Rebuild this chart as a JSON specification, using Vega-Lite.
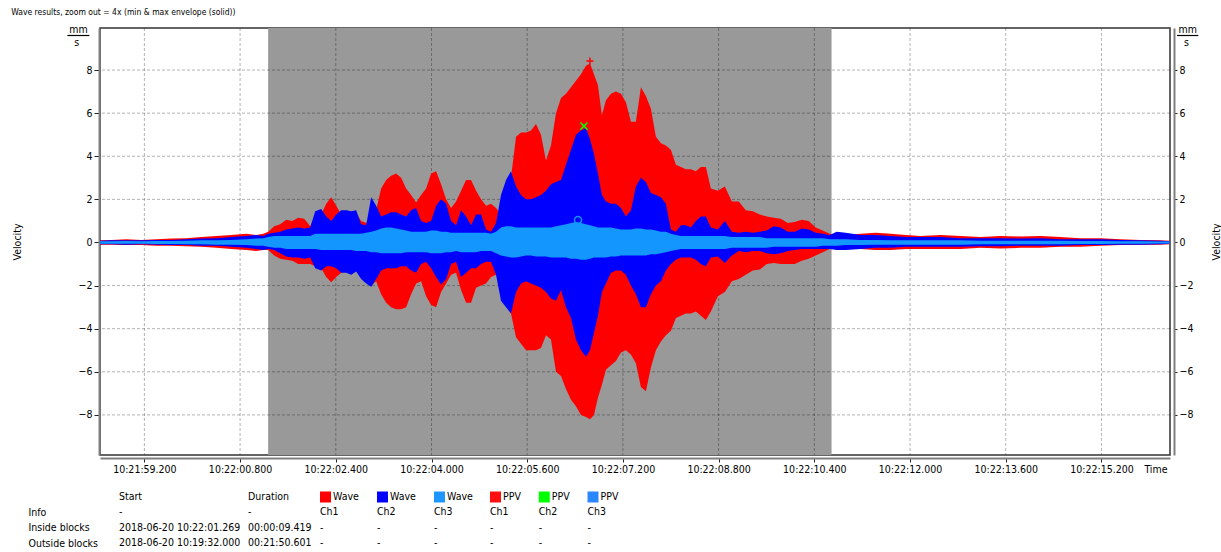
{
  "$schema": "https://vega.github.io/schema/vega-lite/v6.json",
  "background": "white",
  "padding": {"left": 11, "top": 7, "right": 0, "bottom": 0},
  "title": {"text": "Wave results, zoom out = 4x (min & max envelope (solid))", "anchor": "start", "frame": "bounds", "fontSize": 8.5, "font": "DejaVu Sans Condensed", "fontWeight": "normal", "color": "#000", "offset": 8},
  "spacing": 15,
  "config": {
    "font": "DejaVu Sans Condensed",
    "axis": {"labelFont": "DejaVu Sans Condensed", "titleFont": "DejaVu Sans Condensed", "labelFontSize": 10.5, "titleFontSize": 10.5, "titleFontWeight": "normal", "labelColor": "#000", "titleColor": "#000"},
    "text": {"font": "DejaVu Sans Condensed", "fontSize": 10.5, "color": "#000"}
  },
  "resolve": {"scale": {"x": "independent", "y": "independent", "color": "independent", "shape": "independent"}},
  "vconcat": [
    {
      "width": 1070,
      "height": 427,
      "view": {"stroke": "#333", "strokeWidth": 1.5},
      "data": {"values": [
        {"t": 58.46, "ch1max": 0.10, "ch1min": -0.10, "ch2max": 0.08, "ch2min": -0.08, "ch3max": 0.06, "ch3min": -0.06},
        {"t": 58.649, "ch1max": 0.12, "ch1min": -0.10, "ch2max": 0.10, "ch2min": -0.08, "ch3max": 0.06, "ch3min": -0.06},
        {"t": 58.899, "ch1max": 0.15, "ch1min": -0.12, "ch2max": 0.10, "ch2min": -0.10, "ch3max": 0.07, "ch3min": -0.06},
        {"t": 59.150, "ch1max": 0.12, "ch1min": -0.12, "ch2max": 0.10, "ch2min": -0.08, "ch3max": 0.06, "ch3min": -0.06},
        {"t": 59.400, "ch1max": 0.15, "ch1min": -0.15, "ch2max": 0.12, "ch2min": -0.10, "ch3max": 0.07, "ch3min": -0.07},
        {"t": 59.651, "ch1max": 0.18, "ch1min": -0.15, "ch2max": 0.12, "ch2min": -0.12, "ch3max": 0.07, "ch3min": -0.07},
        {"t": 59.901, "ch1max": 0.20, "ch1min": -0.18, "ch2max": 0.15, "ch2min": -0.12, "ch3max": 0.08, "ch3min": -0.08},
        {"t": 60.152, "ch1max": 0.25, "ch1min": -0.20, "ch2max": 0.18, "ch2min": -0.15, "ch3max": 0.10, "ch3min": -0.08},
        {"t": 60.403, "ch1max": 0.30, "ch1min": -0.25, "ch2max": 0.20, "ch2min": -0.15, "ch3max": 0.10, "ch3min": -0.10},
        {"t": 60.653, "ch1max": 0.35, "ch1min": -0.30, "ch2max": 0.25, "ch2min": -0.20, "ch3max": 0.12, "ch3min": -0.10},
        {"t": 60.904, "ch1max": 0.40, "ch1min": -0.35, "ch2max": 0.30, "ch2min": -0.25, "ch3max": 0.15, "ch3min": -0.12},
        {"t": 61.071, "ch1max": 0.35, "ch1min": -0.40, "ch2max": 0.35, "ch2min": -0.30, "ch3max": 0.18, "ch3min": -0.15},
        {"t": 61.187, "ch1max": 0.40, "ch1min": -0.35, "ch2max": 0.30, "ch2min": -0.35, "ch3max": 0.20, "ch3min": -0.15},
        {"t": 61.271, "ch1max": 0.50, "ch1min": -0.35, "ch2max": 0.40, "ch2min": -0.30, "ch3max": 0.25, "ch3min": -0.20},
        {"t": 61.371, "ch1max": 0.75, "ch1min": -0.60, "ch2max": 0.45, "ch2min": -0.35, "ch3max": 0.30, "ch3min": -0.25},
        {"t": 61.471, "ch1max": 0.85, "ch1min": -0.75, "ch2max": 0.50, "ch2min": -0.50, "ch3max": 0.30, "ch3min": -0.25},
        {"t": 61.572, "ch1max": 1.05, "ch1min": -0.80, "ch2max": 0.60, "ch2min": -0.65, "ch3max": 0.30, "ch3min": -0.30},
        {"t": 61.672, "ch1max": 1.00, "ch1min": -0.85, "ch2max": 0.65, "ch2min": -0.70, "ch3max": 0.30, "ch3min": -0.30},
        {"t": 61.772, "ch1max": 1.15, "ch1min": -1.00, "ch2max": 0.70, "ch2min": -0.70, "ch3max": 0.30, "ch3min": -0.30},
        {"t": 61.872, "ch1max": 1.10, "ch1min": -1.00, "ch2max": 0.65, "ch2min": -0.75, "ch3max": 0.30, "ch3min": -0.30},
        {"t": 61.972, "ch1max": 0.75, "ch1min": -1.00, "ch2max": 0.70, "ch2min": -0.70, "ch3max": 0.30, "ch3min": -0.30},
        {"t": 62.056, "ch1max": 1.20, "ch1min": -1.10, "ch2max": 1.45, "ch2min": -1.20, "ch3max": 0.40, "ch3min": -0.30},
        {"t": 62.156, "ch1max": 1.30, "ch1min": -1.20, "ch2max": 1.55, "ch2min": -1.30, "ch3max": 0.40, "ch3min": -0.35},
        {"t": 62.240, "ch1max": 1.80, "ch1min": -1.60, "ch2max": 1.20, "ch2min": -1.10, "ch3max": 0.40, "ch3min": -0.35},
        {"t": 62.323, "ch1max": 2.10, "ch1min": -1.85, "ch2max": 1.00, "ch2min": -1.10, "ch3max": 0.40, "ch3min": -0.35},
        {"t": 62.407, "ch1max": 1.70, "ch1min": -1.60, "ch2max": 1.30, "ch2min": -1.20, "ch3max": 0.40, "ch3min": -0.35},
        {"t": 62.490, "ch1max": 1.30, "ch1min": -1.40, "ch2max": 1.50, "ch2min": -1.40, "ch3max": 0.40, "ch3min": -0.35},
        {"t": 62.574, "ch1max": 1.20, "ch1min": -1.30, "ch2max": 1.50, "ch2min": -1.40, "ch3max": 0.40, "ch3min": -0.35},
        {"t": 62.657, "ch1max": 1.20, "ch1min": -1.30, "ch2max": 1.45, "ch2min": -1.50, "ch3max": 0.40, "ch3min": -0.35},
        {"t": 62.741, "ch1max": 1.35, "ch1min": -1.30, "ch2max": 1.50, "ch2min": -1.35, "ch3max": 0.40, "ch3min": -0.40},
        {"t": 62.824, "ch1max": 1.00, "ch1min": -1.40, "ch2max": 0.85, "ch2min": -1.70, "ch3max": 0.40, "ch3min": -0.40},
        {"t": 62.908, "ch1max": 0.90, "ch1min": -1.80, "ch2max": 0.80, "ch2min": -1.90, "ch3max": 0.45, "ch3min": -0.40},
        {"t": 62.991, "ch1max": 1.20, "ch1min": -2.00, "ch2max": 2.10, "ch2min": -2.05, "ch3max": 0.50, "ch3min": -0.45},
        {"t": 63.075, "ch1max": 1.50, "ch1min": -1.80, "ch2max": 1.70, "ch2min": -1.70, "ch3max": 0.55, "ch3min": -0.45},
        {"t": 63.158, "ch1max": 2.50, "ch1min": -2.40, "ch2max": 1.20, "ch2min": -1.30, "ch3max": 0.65, "ch3min": -0.50},
        {"t": 63.242, "ch1max": 2.90, "ch1min": -2.80, "ch2max": 1.30, "ch2min": -1.20, "ch3max": 0.70, "ch3min": -0.50},
        {"t": 63.325, "ch1max": 3.10, "ch1min": -3.00, "ch2max": 1.40, "ch2min": -1.20, "ch3max": 0.70, "ch3min": -0.50},
        {"t": 63.409, "ch1max": 3.20, "ch1min": -3.10, "ch2max": 1.40, "ch2min": -1.20, "ch3max": 0.65, "ch3min": -0.50},
        {"t": 63.492, "ch1max": 3.00, "ch1min": -3.10, "ch2max": 1.30, "ch2min": -1.10, "ch3max": 0.60, "ch3min": -0.50},
        {"t": 63.576, "ch1max": 2.50, "ch1min": -3.00, "ch2max": 1.20, "ch2min": -1.10, "ch3max": 0.55, "ch3min": -0.45},
        {"t": 63.659, "ch1max": 2.20, "ch1min": -2.40, "ch2max": 1.50, "ch2min": -1.30, "ch3max": 0.50, "ch3min": -0.45},
        {"t": 63.743, "ch1max": 1.85, "ch1min": -1.90, "ch2max": 1.60, "ch2min": -1.40, "ch3max": 0.50, "ch3min": -0.45},
        {"t": 63.826, "ch1max": 2.20, "ch1min": -1.80, "ch2max": 1.00, "ch2min": -1.00, "ch3max": 0.50, "ch3min": -0.45},
        {"t": 63.910, "ch1max": 2.50, "ch1min": -2.50, "ch2max": 0.90, "ch2min": -0.90, "ch3max": 0.50, "ch3min": -0.45},
        {"t": 63.993, "ch1max": 3.20, "ch1min": -2.90, "ch2max": 1.00, "ch2min": -1.20, "ch3max": 0.55, "ch3min": -0.50},
        {"t": 64.077, "ch1max": 3.30, "ch1min": -3.00, "ch2max": 1.70, "ch2min": -1.60, "ch3max": 0.55, "ch3min": -0.50},
        {"t": 64.160, "ch1max": 2.70, "ch1min": -2.30, "ch2max": 2.00, "ch2min": -1.95, "ch3max": 0.50, "ch3min": -0.50},
        {"t": 64.244, "ch1max": 2.00, "ch1min": -1.90, "ch2max": 1.80, "ch2min": -1.70, "ch3max": 0.50, "ch3min": -0.45},
        {"t": 64.327, "ch1max": 1.60, "ch1min": -1.50, "ch2max": 1.00, "ch2min": -1.00, "ch3max": 0.45, "ch3min": -0.45},
        {"t": 64.411, "ch1max": 1.90, "ch1min": -1.40, "ch2max": 0.80, "ch2min": -0.90, "ch3max": 0.45, "ch3min": -0.40},
        {"t": 64.494, "ch1max": 2.40, "ch1min": -2.20, "ch2max": 1.50, "ch2min": -1.60, "ch3max": 0.45, "ch3min": -0.45},
        {"t": 64.578, "ch1max": 2.90, "ch1min": -2.80, "ch2max": 1.20, "ch2min": -1.40, "ch3max": 0.45, "ch3min": -0.45},
        {"t": 64.661, "ch1max": 2.90, "ch1min": -2.80, "ch2max": 0.80, "ch2min": -1.20, "ch3max": 0.45, "ch3min": -0.45},
        {"t": 64.745, "ch1max": 2.40, "ch1min": -2.10, "ch2max": 1.30, "ch2min": -1.20, "ch3max": 0.45, "ch3min": -0.45},
        {"t": 64.828, "ch1max": 2.00, "ch1min": -2.00, "ch2max": 1.30, "ch2min": -1.00, "ch3max": 0.45, "ch3min": -0.40},
        {"t": 64.912, "ch1max": 1.70, "ch1min": -1.90, "ch2max": 0.60, "ch2min": -0.90, "ch3max": 0.45, "ch3min": -0.40},
        {"t": 64.995, "ch1max": 1.80, "ch1min": -1.60, "ch2max": 0.50, "ch2min": -0.90, "ch3max": 0.40, "ch3min": -0.40},
        {"t": 65.079, "ch1max": 1.60, "ch1min": -1.50, "ch2max": 0.90, "ch2min": -1.50, "ch3max": 0.50, "ch3min": -0.50},
        {"t": 65.162, "ch1max": 1.30, "ch1min": -1.60, "ch2max": 2.20, "ch2min": -2.70, "ch3max": 0.70, "ch3min": -0.60},
        {"t": 65.246, "ch1max": 2.00, "ch1min": -2.30, "ch2max": 2.90, "ch2min": -3.00, "ch3max": 0.75, "ch3min": -0.65},
        {"t": 65.329, "ch1max": 3.00, "ch1min": -3.30, "ch2max": 3.30, "ch2min": -3.30, "ch3max": 0.75, "ch3min": -0.70},
        {"t": 65.413, "ch1max": 4.90, "ch1min": -4.40, "ch2max": 2.60, "ch2min": -2.30, "ch3max": 0.70, "ch3min": -0.70},
        {"t": 65.496, "ch1max": 5.10, "ch1min": -4.70, "ch2max": 2.20, "ch2min": -1.90, "ch3max": 0.70, "ch3min": -0.65},
        {"t": 65.580, "ch1max": 5.10, "ch1min": -5.00, "ch2max": 2.00, "ch2min": -1.80, "ch3max": 0.70, "ch3min": -0.60},
        {"t": 65.663, "ch1max": 5.20, "ch1min": -5.00, "ch2max": 2.00, "ch2min": -1.90, "ch3max": 0.70, "ch3min": -0.60},
        {"t": 65.747, "ch1max": 5.50, "ch1min": -5.00, "ch2max": 2.10, "ch2min": -2.00, "ch3max": 0.70, "ch3min": -0.65},
        {"t": 65.830, "ch1max": 5.00, "ch1min": -4.90, "ch2max": 2.20, "ch2min": -2.10, "ch3max": 0.70, "ch3min": -0.65},
        {"t": 65.914, "ch1max": 3.80, "ch1min": -4.30, "ch2max": 2.40, "ch2min": -2.30, "ch3max": 0.70, "ch3min": -0.65},
        {"t": 65.997, "ch1max": 4.50, "ch1min": -4.50, "ch2max": 2.70, "ch2min": -2.60, "ch3max": 0.70, "ch3min": -0.70},
        {"t": 66.081, "ch1max": 6.00, "ch1min": -6.00, "ch2max": 2.80, "ch2min": -2.70, "ch3max": 0.75, "ch3min": -0.70},
        {"t": 66.165, "ch1max": 6.70, "ch1min": -6.20, "ch2max": 2.90, "ch2min": -2.20, "ch3max": 0.80, "ch3min": -0.70},
        {"t": 66.248, "ch1max": 6.90, "ch1min": -6.80, "ch2max": 3.60, "ch2min": -3.00, "ch3max": 0.85, "ch3min": -0.70},
        {"t": 66.332, "ch1max": 7.20, "ch1min": -7.30, "ch2max": 4.30, "ch2min": -3.50, "ch3max": 0.90, "ch3min": -0.75},
        {"t": 66.415, "ch1max": 7.50, "ch1min": -7.60, "ch2max": 5.00, "ch2min": -4.50, "ch3max": 0.95, "ch3min": -0.75},
        {"t": 66.499, "ch1max": 7.80, "ch1min": -8.00, "ch2max": 5.20, "ch2min": -5.00, "ch3max": 0.90, "ch3min": -0.80},
        {"t": 66.582, "ch1max": 8.20, "ch1min": -8.10, "ch2max": 5.30, "ch2min": -5.30, "ch3max": 0.85, "ch3min": -0.80},
        {"t": 66.649, "ch1max": 8.30, "ch1min": -8.20, "ch2max": 4.80, "ch2min": -5.00, "ch3max": 0.80, "ch3min": -0.75},
        {"t": 66.716, "ch1max": 7.80, "ch1min": -8.00, "ch2max": 4.10, "ch2min": -4.20, "ch3max": 0.75, "ch3min": -0.70},
        {"t": 66.782, "ch1max": 7.30, "ch1min": -7.20, "ch2max": 3.20, "ch2min": -3.40, "ch3max": 0.70, "ch3min": -0.70},
        {"t": 66.849, "ch1max": 5.90, "ch1min": -6.60, "ch2max": 2.20, "ch2min": -2.30, "ch3max": 0.70, "ch3min": -0.70},
        {"t": 66.916, "ch1max": 6.60, "ch1min": -5.90, "ch2max": 1.90, "ch2min": -1.90, "ch3max": 0.70, "ch3min": -0.70},
        {"t": 67.000, "ch1max": 6.90, "ch1min": -5.70, "ch2max": 1.80, "ch2min": -1.40, "ch3max": 0.70, "ch3min": -0.65},
        {"t": 67.083, "ch1max": 7.00, "ch1min": -5.50, "ch2max": 1.80, "ch2min": -1.30, "ch3max": 0.65, "ch3min": -0.65},
        {"t": 67.167, "ch1max": 6.90, "ch1min": -5.10, "ch2max": 1.60, "ch2min": -1.30, "ch3max": 0.60, "ch3min": -0.60},
        {"t": 67.250, "ch1max": 6.50, "ch1min": -5.00, "ch2max": 1.20, "ch2min": -1.50, "ch3max": 0.60, "ch3min": -0.60},
        {"t": 67.334, "ch1max": 5.60, "ch1min": -5.20, "ch2max": 1.50, "ch2min": -2.00, "ch3max": 0.60, "ch3min": -0.60},
        {"t": 67.417, "ch1max": 5.60, "ch1min": -5.60, "ch2max": 2.60, "ch2min": -2.40, "ch3max": 0.65, "ch3min": -0.60},
        {"t": 67.501, "ch1max": 7.20, "ch1min": -6.70, "ch2max": 3.00, "ch2min": -3.00, "ch3max": 0.65, "ch3min": -0.60},
        {"t": 67.584, "ch1max": 6.80, "ch1min": -6.90, "ch2max": 2.80, "ch2min": -3.00, "ch3max": 0.60, "ch3min": -0.60},
        {"t": 67.668, "ch1max": 6.20, "ch1min": -5.80, "ch2max": 2.30, "ch2min": -2.40, "ch3max": 0.60, "ch3min": -0.55},
        {"t": 67.751, "ch1max": 4.90, "ch1min": -5.00, "ch2max": 2.20, "ch2min": -2.00, "ch3max": 0.55, "ch3min": -0.55},
        {"t": 67.835, "ch1max": 4.60, "ch1min": -4.60, "ch2max": 2.10, "ch2min": -1.80, "ch3max": 0.50, "ch3min": -0.50},
        {"t": 67.918, "ch1max": 4.50, "ch1min": -4.30, "ch2max": 1.80, "ch2min": -1.30, "ch3max": 0.50, "ch3min": -0.45},
        {"t": 68.002, "ch1max": 4.30, "ch1min": -4.10, "ch2max": 0.60, "ch2min": -1.00, "ch3max": 0.40, "ch3min": -0.40},
        {"t": 68.086, "ch1max": 3.60, "ch1min": -3.50, "ch2max": 0.50, "ch2min": -0.80, "ch3max": 0.35, "ch3min": -0.35},
        {"t": 68.169, "ch1max": 3.50, "ch1min": -3.40, "ch2max": 0.80, "ch2min": -0.70, "ch3max": 0.30, "ch3min": -0.30},
        {"t": 68.253, "ch1max": 3.40, "ch1min": -3.30, "ch2max": 0.80, "ch2min": -0.70, "ch3max": 0.30, "ch3min": -0.30},
        {"t": 68.336, "ch1max": 3.40, "ch1min": -3.30, "ch2max": 0.70, "ch2min": -0.70, "ch3max": 0.30, "ch3min": -0.30},
        {"t": 68.420, "ch1max": 3.30, "ch1min": -3.20, "ch2max": 1.00, "ch2min": -0.80, "ch3max": 0.30, "ch3min": -0.30},
        {"t": 68.503, "ch1max": 3.50, "ch1min": -3.40, "ch2max": 1.20, "ch2min": -1.00, "ch3max": 0.30, "ch3min": -0.30},
        {"t": 68.587, "ch1max": 3.50, "ch1min": -3.60, "ch2max": 1.20, "ch2min": -1.10, "ch3max": 0.30, "ch3min": -0.30},
        {"t": 68.670, "ch1max": 2.50, "ch1min": -3.20, "ch2max": 0.70, "ch2min": -0.70, "ch3max": 0.30, "ch3min": -0.30},
        {"t": 68.787, "ch1max": 2.40, "ch1min": -2.50, "ch2max": 0.60, "ch2min": -0.65, "ch3max": 0.30, "ch3min": -0.30},
        {"t": 68.904, "ch1max": 2.60, "ch1min": -2.30, "ch2max": 1.00, "ch2min": -0.95, "ch3max": 0.30, "ch3min": -0.30},
        {"t": 69.021, "ch1max": 1.90, "ch1min": -1.80, "ch2max": 0.50, "ch2min": -0.60, "ch3max": 0.25, "ch3min": -0.25},
        {"t": 69.137, "ch1max": 1.90, "ch1min": -1.70, "ch2max": 0.45, "ch2min": -0.40, "ch3max": 0.25, "ch3min": -0.25},
        {"t": 69.254, "ch1max": 1.50, "ch1min": -1.50, "ch2max": 0.50, "ch2min": -0.45, "ch3max": 0.25, "ch3min": -0.25},
        {"t": 69.371, "ch1max": 1.45, "ch1min": -1.30, "ch2max": 0.45, "ch2min": -0.40, "ch3max": 0.25, "ch3min": -0.25},
        {"t": 69.488, "ch1max": 1.30, "ch1min": -1.25, "ch2max": 0.50, "ch2min": -0.40, "ch3max": 0.25, "ch3min": -0.25},
        {"t": 69.605, "ch1max": 1.20, "ch1min": -1.00, "ch2max": 0.55, "ch2min": -0.50, "ch3max": 0.20, "ch3min": -0.25},
        {"t": 69.722, "ch1max": 1.15, "ch1min": -0.95, "ch2max": 0.75, "ch2min": -0.55, "ch3max": 0.20, "ch3min": -0.20},
        {"t": 69.839, "ch1max": 1.10, "ch1min": -1.00, "ch2max": 0.70, "ch2min": -0.50, "ch3max": 0.20, "ch3min": -0.20},
        {"t": 69.955, "ch1max": 0.90, "ch1min": -1.00, "ch2max": 0.50, "ch2min": -0.40, "ch3max": 0.20, "ch3min": -0.20},
        {"t": 70.073, "ch1max": 0.95, "ch1min": -1.00, "ch2max": 0.50, "ch2min": -0.35, "ch3max": 0.20, "ch3min": -0.20},
        {"t": 70.190, "ch1max": 1.05, "ch1min": -0.85, "ch2max": 0.65, "ch2min": -0.30, "ch3max": 0.20, "ch3min": -0.20},
        {"t": 70.306, "ch1max": 1.00, "ch1min": -0.75, "ch2max": 0.60, "ch2min": -0.30, "ch3max": 0.20, "ch3min": -0.20},
        {"t": 70.423, "ch1max": 0.70, "ch1min": -0.60, "ch2max": 0.45, "ch2min": -0.30, "ch3max": 0.20, "ch3min": -0.20},
        {"t": 70.540, "ch1max": 0.55, "ch1min": -0.45, "ch2max": 0.40, "ch2min": -0.30, "ch3max": 0.20, "ch3min": -0.15},
        {"t": 70.657, "ch1max": 0.40, "ch1min": -0.30, "ch2max": 0.35, "ch2min": -0.30, "ch3max": 0.15, "ch3min": -0.15},
        {"t": 70.774, "ch1max": 0.35, "ch1min": -0.30, "ch2max": 0.50, "ch2min": -0.35, "ch3max": 0.15, "ch3min": -0.15},
        {"t": 70.925, "ch1max": 0.35, "ch1min": -0.30, "ch2max": 0.45, "ch2min": -0.35, "ch3max": 0.15, "ch3min": -0.12},
        {"t": 71.175, "ch1max": 0.40, "ch1min": -0.30, "ch2max": 0.35, "ch2min": -0.30, "ch3max": 0.12, "ch3min": -0.12},
        {"t": 71.425, "ch1max": 0.45, "ch1min": -0.35, "ch2max": 0.35, "ch2min": -0.25, "ch3max": 0.12, "ch3min": -0.10},
        {"t": 71.676, "ch1max": 0.40, "ch1min": -0.35, "ch2max": 0.30, "ch2min": -0.25, "ch3max": 0.10, "ch3min": -0.10},
        {"t": 71.927, "ch1max": 0.35, "ch1min": -0.30, "ch2max": 0.25, "ch2min": -0.20, "ch3max": 0.10, "ch3min": -0.10},
        {"t": 72.177, "ch1max": 0.30, "ch1min": -0.30, "ch2max": 0.25, "ch2min": -0.20, "ch3max": 0.10, "ch3min": -0.10},
        {"t": 72.511, "ch1max": 0.35, "ch1min": -0.30, "ch2max": 0.25, "ch2min": -0.20, "ch3max": 0.10, "ch3min": -0.10},
        {"t": 72.845, "ch1max": 0.30, "ch1min": -0.30, "ch2max": 0.20, "ch2min": -0.20, "ch3max": 0.10, "ch3min": -0.10},
        {"t": 73.179, "ch1max": 0.25, "ch1min": -0.25, "ch2max": 0.20, "ch2min": -0.18, "ch3max": 0.08, "ch3min": -0.08},
        {"t": 73.513, "ch1max": 0.30, "ch1min": -0.28, "ch2max": 0.20, "ch2min": -0.18, "ch3max": 0.08, "ch3min": -0.08},
        {"t": 73.847, "ch1max": 0.28, "ch1min": -0.25, "ch2max": 0.18, "ch2min": -0.15, "ch3max": 0.08, "ch3min": -0.08},
        {"t": 74.181, "ch1max": 0.30, "ch1min": -0.25, "ch2max": 0.20, "ch2min": -0.15, "ch3max": 0.08, "ch3min": -0.08},
        {"t": 74.515, "ch1max": 0.25, "ch1min": -0.20, "ch2max": 0.15, "ch2min": -0.15, "ch3max": 0.08, "ch3min": -0.08},
        {"t": 74.849, "ch1max": 0.20, "ch1min": -0.20, "ch2max": 0.15, "ch2min": -0.12, "ch3max": 0.07, "ch3min": -0.07},
        {"t": 75.183, "ch1max": 0.20, "ch1min": -0.15, "ch2max": 0.15, "ch2min": -0.12, "ch3max": 0.07, "ch3min": -0.07},
        {"t": 75.517, "ch1max": 0.15, "ch1min": -0.12, "ch2max": 0.12, "ch2min": -0.10, "ch3max": 0.06, "ch3min": -0.06},
        {"t": 75.851, "ch1max": 0.12, "ch1min": -0.10, "ch2max": 0.10, "ch2min": -0.10, "ch3max": 0.06, "ch3min": -0.06},
        {"t": 76.185, "ch1max": 0.10, "ch1min": -0.10, "ch2max": 0.08, "ch2min": -0.08, "ch3max": 0.05, "ch3min": -0.05},
        {"t": 76.340, "ch1max": 0.08, "ch1min": -0.08, "ch2max": 0.06, "ch2min": -0.06, "ch3max": 0.05, "ch3min": -0.05}
      ]},
      "layer": [
        {
          "layer": [
            {
              "data": {"values": [{"start": 61.269, "end": 70.688}]},
              "mark": {"type": "rect", "color": "#999999"},
              "encoding": {
                "x": {"field": "start", "type": "quantitative", "scale": {"domain": [58.458, 76.346], "nice": false, "zero": false},
                  "axis": {"title": "Time", "orient": "bottom", "values": [59.2, 60.8, 62.4, 64, 65.6, 67.2, 68.8, 70.4, 72, 73.6, 75.2],
                    "labelExpr": "'10:' + (datum.value < 60 ? '21:' + format(datum.value, '06.3f') : '22:' + format(datum.value - 60, '06.3f'))",
                    "grid": false, "offset": 3, "domainColor": "#808080", "domainWidth": 2, "tickSize": 4, "tickColor": "#222", "labelPadding": 2,
                    "labelFlush": false, "labelOverlap": false, "titleX": 1067, "titleY": 14, "titleAlign": "right", "titleBaseline": "alphabetic", "titleAnchor": null}},
                "x2": {"field": "end"},
                "y": {"datum": 9.95, "type": "quantitative", "scale": {"domain": [-9.86, 9.95], "nice": false, "zero": false},
                  "axis": {"title": "Velocity", "orient": "left", "values": [-8, -6, -4, -2, 0, 2, 4, 6, 8], "grid": false, "offset": 1,
                    "domainColor": "#808080", "domainWidth": 2, "tickSize": 5, "tickColor": "#222", "labelPadding": 2,
                    "titleX": -82, "titleY": 213.5, "titleAngle": 270, "titleAlign": "center", "titleBaseline": "middle"}},
                "y2": {"datum": -9.86}
              }
            },
            {
              "data": {"values": [{"g": 59.2}, {"g": 60.8}, {"g": 62.4}, {"g": 64}, {"g": 65.6}, {"g": 67.2}, {"g": 68.8}, {"g": 70.4}, {"g": 72}, {"g": 73.6}, {"g": 75.2}]},
              "mark": {"type": "rule", "color": "#000", "opacity": 0.3, "strokeDash": [3, 2], "strokeWidth": 1},
              "encoding": {"x": {"field": "g", "type": "quantitative"}}
            },
            {
              "data": {"values": [{"g": -8}, {"g": -6}, {"g": -4}, {"g": -2}, {"g": 0}, {"g": 2}, {"g": 4}, {"g": 6}, {"g": 8}]},
              "mark": {"type": "rule", "color": "#000", "opacity": 0.3, "strokeDash": [3, 2], "strokeWidth": 1},
              "encoding": {"y": {"field": "g", "type": "quantitative"}}
            },
            {
              "mark": {"type": "area", "color": "#FF0000", "clip": true},
              "encoding": {"x": {"field": "t", "type": "quantitative"}, "y": {"field": "ch1max", "type": "quantitative"}, "y2": {"field": "ch1min"}}
            },
            {
              "mark": {"type": "area", "color": "#0000FF", "clip": true},
              "encoding": {"x": {"field": "t", "type": "quantitative"}, "y": {"field": "ch2max", "type": "quantitative"}, "y2": {"field": "ch2min"}}
            },
            {
              "mark": {"type": "area", "color": "#1496FF", "clip": true},
              "encoding": {"x": {"field": "t", "type": "quantitative"}, "y": {"field": "ch3max", "type": "quantitative"}, "y2": {"field": "ch3min"}}
            },
            {
              "data": {"values": [{"t": 66.649, "v": 8.42, "ppv": "PPV Ch1"}, {"t": 66.549, "v": 5.40, "ppv": "PPV Ch2"}, {"t": 66.449, "v": 1.04, "ppv": "PPV Ch3"}]},
              "mark": {"type": "point", "filled": false, "strokeWidth": 1.5, "size": 50, "opacity": 1},
              "encoding": {
                "x": {"field": "t", "type": "quantitative"},
                "y": {"field": "v", "type": "quantitative"},
                "shape": {"field": "ppv", "type": "nominal", "legend": null, "scale": {"domain": ["PPV Ch1", "PPV Ch2", "PPV Ch3"], "range": ["M-1,0L1,0M0,-1L0,1", "M-1,-1L1,1M-1,1L1,-1", "circle"]}},
                "color": {"field": "ppv", "type": "nominal", "legend": null, "scale": {"domain": ["PPV Ch1", "PPV Ch2", "PPV Ch3"], "range": ["#FF0000", "#00FF00", "#1496FF"]}}
              }
            },
            {
              "data": {"values": [{}]},
              "layer": [
                {"mark": {"type": "text", "fontSize": 10.5, "baseline": "alphabetic", "align": "center"}, "encoding": {"x": {"datum": 58.097, "type": "quantitative"}, "y": {"datum": 9.718, "type": "quantitative"}, "text": {"value": "mm"}}},
                {"mark": {"type": "text", "fontSize": 10.5, "baseline": "alphabetic", "align": "center"}, "encoding": {"x": {"datum": 58.07, "type": "quantitative"}, "y": {"datum": 9.138, "type": "quantitative"}, "text": {"value": "s"}}},
                {"mark": {"type": "rule", "color": "#000", "strokeWidth": 1.2}, "encoding": {"x": {"datum": 57.913, "type": "quantitative"}, "x2": {"datum": 58.281}, "y": {"datum": 9.602, "type": "quantitative"}}},
                {"mark": {"type": "text", "fontSize": 10.5, "baseline": "alphabetic", "align": "center"}, "encoding": {"x": {"datum": 76.641, "type": "quantitative"}, "y": {"datum": 9.718, "type": "quantitative"}, "text": {"value": "mm"}}},
                {"mark": {"type": "text", "fontSize": 10.5, "baseline": "alphabetic", "align": "center"}, "encoding": {"x": {"datum": 76.62, "type": "quantitative"}, "y": {"datum": 9.138, "type": "quantitative"}, "text": {"value": "s"}}},
                {"mark": {"type": "rule", "color": "#000", "strokeWidth": 1.2}, "encoding": {"x": {"datum": 76.463, "type": "quantitative"}, "x2": {"datum": 76.819}, "y": {"datum": 9.602, "type": "quantitative"}}}
              ]
            }
          ]
        },
        {
          "data": {"values": [{}]},
          "mark": {"type": "rule", "opacity": 0},
          "encoding": {
            "y": {"datum": 0, "type": "quantitative", "scale": {"domain": [-9.86, 9.95], "nice": false, "zero": false},
              "axis": {"title": "Velocity", "orient": "right", "values": [-8, -6, -4, -2, 0, 2, 4, 6, 8], "grid": false, "offset": 4,
                "domainColor": "#808080", "domainWidth": 2, "tickSize": 3, "tickColor": "#222", "labelPadding": 2,
                "titleX": 42, "titleY": 213.5, "titleAngle": 270, "titleAlign": "center", "titleBaseline": "middle"}}
          }
        }
      ],
      "resolve": {"scale": {"y": "independent"}, "axis": {"y": "independent"}}
    },
    {
      "width": 600,
      "height": 46,
      "view": {"stroke": null},
      "data": {"values": [
        {"grp": "sd", "row": "hdr", "col": "Start", "txt": "Start"},
        {"grp": "sd", "row": "hdr", "col": "Duration", "txt": "Duration"},
        {"grp": "sd", "row": "Info", "col": "Start", "txt": "-"},
        {"grp": "sd", "row": "Info", "col": "Duration", "txt": "-"},
        {"grp": "sd", "row": "Inside blocks", "col": "Start", "txt": "2018-06-20 10:22:01.269"},
        {"grp": "sd", "row": "Inside blocks", "col": "Duration", "txt": "00:00:09.419"},
        {"grp": "sd", "row": "Outside blocks", "col": "Start", "txt": "2018-06-20 10:19:32.000"},
        {"grp": "sd", "row": "Outside blocks", "col": "Duration", "txt": "00:21:50.601"},
        {"grp": "Wave", "row": "hdr", "col": "Wave Ch1", "txt": "Wave"},
        {"grp": "Wave", "row": "Info", "col": "Wave Ch1", "txt": "Ch1"},
        {"grp": "Wave", "row": "Inside blocks", "col": "Wave Ch1", "txt": "-"},
        {"grp": "Wave", "row": "Outside blocks", "col": "Wave Ch1", "txt": "-"},
        {"grp": "Wave", "row": "hdr", "col": "Wave Ch2", "txt": "Wave"},
        {"grp": "Wave", "row": "Info", "col": "Wave Ch2", "txt": "Ch2"},
        {"grp": "Wave", "row": "Inside blocks", "col": "Wave Ch2", "txt": "-"},
        {"grp": "Wave", "row": "Outside blocks", "col": "Wave Ch2", "txt": "-"},
        {"grp": "Wave", "row": "hdr", "col": "Wave Ch3", "txt": "Wave"},
        {"grp": "Wave", "row": "Info", "col": "Wave Ch3", "txt": "Ch3"},
        {"grp": "Wave", "row": "Inside blocks", "col": "Wave Ch3", "txt": "-"},
        {"grp": "Wave", "row": "Outside blocks", "col": "Wave Ch3", "txt": "-"},
        {"grp": "PPV", "row": "hdr", "col": "PPV Ch1", "txt": "PPV"},
        {"grp": "PPV", "row": "Info", "col": "PPV Ch1", "txt": "Ch1"},
        {"grp": "PPV", "row": "Inside blocks", "col": "PPV Ch1", "txt": "-"},
        {"grp": "PPV", "row": "Outside blocks", "col": "PPV Ch1", "txt": "-"},
        {"grp": "PPV", "row": "hdr", "col": "PPV Ch2", "txt": "PPV"},
        {"grp": "PPV", "row": "Info", "col": "PPV Ch2", "txt": "Ch2"},
        {"grp": "PPV", "row": "Inside blocks", "col": "PPV Ch2", "txt": "-"},
        {"grp": "PPV", "row": "Outside blocks", "col": "PPV Ch2", "txt": "-"},
        {"grp": "PPV", "row": "hdr", "col": "PPV Ch3", "txt": "PPV"},
        {"grp": "PPV", "row": "Info", "col": "PPV Ch3", "txt": "Ch3"},
        {"grp": "PPV", "row": "Inside blocks", "col": "PPV Ch3", "txt": "-"},
        {"grp": "PPV", "row": "Outside blocks", "col": "PPV Ch3", "txt": "-"}
      ]},
      "encoding": {
        "y": {"field": "row", "type": "nominal", "scale": {"type": "point", "domain": ["hdr", "Info", "Inside blocks", "Outside blocks"], "padding": 0},
          "axis": {"title": null, "domain": false, "ticks": false, "tickSize": 0, "grid": false, "labelPadding": 72, "labelAlign": "left", "labelBaseline": "middle", "labelLimit": 200, "labelExpr": "datum.value == 'hdr' ? '' : datum.value"}}
      },
      "layer": [
        {
          "transform": [{"filter": "datum.grp == 'sd'"}],
          "mark": {"type": "text", "align": "left", "baseline": "middle"},
          "encoding": {
            "x": {"field": "col", "type": "nominal", "scale": {"type": "point", "domain": ["Start", "Duration"], "range": [19, 148], "padding": 0}, "axis": null},
            "text": {"field": "txt"}
          }
        },
        {
          "transform": [{"filter": "datum.grp == 'Wave'"}],
          "encoding": {
            "x": {"field": "col", "type": "nominal", "scale": {"type": "point", "domain": ["Wave Ch1", "Wave Ch2", "Wave Ch3"], "range": [225.5, 339.5], "padding": 0}, "axis": null}
          },
          "layer": [
            {"transform": [{"filter": "datum.row == 'hdr'"}], "mark": {"type": "point", "shape": "square", "filled": true, "size": 121, "opacity": 1},
              "encoding": {"color": {"field": "col", "type": "nominal", "legend": null, "scale": {"domain": ["Wave Ch1", "Wave Ch2", "Wave Ch3"], "range": ["#FF0000", "#0000FF", "#1E96FF"]}}}},
            {"transform": [{"filter": "datum.row == 'hdr'"}], "mark": {"type": "text", "align": "left", "baseline": "middle", "dx": 7.5}, "encoding": {"text": {"field": "txt"}}},
            {"transform": [{"filter": "datum.row != 'hdr'"}], "mark": {"type": "text", "align": "left", "baseline": "middle", "dx": -5.5}, "encoding": {"text": {"field": "txt"}}}
          ]
        },
        {
          "transform": [{"filter": "datum.grp == 'PPV'"}],
          "encoding": {
            "x": {"field": "col", "type": "nominal", "scale": {"type": "point", "domain": ["PPV Ch1", "PPV Ch2", "PPV Ch3"], "range": [395.5, 493], "padding": 0}, "axis": null}
          },
          "layer": [
            {"transform": [{"filter": "datum.row == 'hdr'"}], "mark": {"type": "point", "shape": "square", "filled": true, "size": 121, "opacity": 1},
              "encoding": {"color": {"field": "col", "type": "nominal", "legend": null, "scale": {"domain": ["PPV Ch1", "PPV Ch2", "PPV Ch3"], "range": ["#FF1010", "#00FF00", "#2A88FF"]}}}},
            {"transform": [{"filter": "datum.row == 'hdr'"}], "mark": {"type": "text", "align": "left", "baseline": "middle", "dx": 7.5}, "encoding": {"text": {"field": "txt"}}},
            {"transform": [{"filter": "datum.row != 'hdr'"}], "mark": {"type": "text", "align": "left", "baseline": "middle", "dx": -5.5}, "encoding": {"text": {"field": "txt"}}}
          ]
        }
      ],
      "resolve": {"scale": {"x": "independent", "color": "independent"}}
    }
  ]
}
